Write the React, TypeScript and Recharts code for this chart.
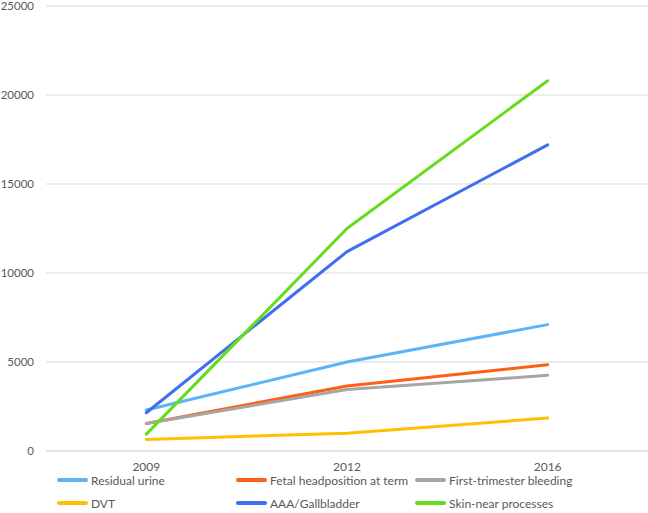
import React from 'react';
import { LineChart, Line, XAxis, YAxis, CartesianGrid } from 'recharts';

const years = ['2009', '2012', '2016'];

const residualUrine = [2300, 5000, 7100];
const fetalHeadposition = [1550, 3650, 4850];
const firstTrimesterBleeding = [1550, 3450, 4250];
const dvt = [650, 1000, 1850];
const aaaGallbladder = [2150, 11200, 17200];
const skinNearProcesses = [950, 12500, 20800];

const yTicks = [0, 5000, 10000, 15000, 20000, 25000];

const series = [
  { key: 'residual', name: 'Residual urine', values: residualUrine, color: '#5AB4F7' },
  { key: 'fetal', name: 'Fetal headposition at term', values: fetalHeadposition, color: '#FF5F14' },
  { key: 'first', name: 'First-trimester bleeding', values: firstTrimesterBleeding, color: '#A6A6A6' },
  { key: 'dvt', name: 'DVT', values: dvt, color: '#FFC000' },
  { key: 'aaa', name: 'AAA/Gallbladder', values: aaaGallbladder, color: '#3F6FF0' },
  { key: 'skin', name: 'Skin-near processes', values: skinNearProcesses, color: '#66DD1C' },
];

const data = years.map((year, i) => {
  const row: Record<string, string | number> = { year };
  series.forEach(s => {
    row[s.key] = s.values[i];
  });
  return row;
});

const FONT = 'Lato, "Open Sans", sans-serif';
const TEXT = '#595959';

// legend drawn as a 3-column grid under the axis, like the spreadsheet original
const ChartLegend = () => (
  <div style={{ position: 'absolute', left: 0, top: 471, width: 648, fontFamily: FONT, fontSize: 12, color: TEXT }}>
    {series.map((s, i) => (
      <div
        key={s.key}
        style={{
          position: 'absolute',
          left: 57 + (i % 3) * 179,
          top: Math.floor(i / 3) * 23,
          display: 'flex',
          alignItems: 'center',
          height: 18,
          whiteSpace: 'nowrap',
        }}
      >
        <span style={{ display: 'inline-block', width: 31, height: 4, background: s.color, borderRadius: 2, marginRight: 3 }} />
        <span>{s.name}</span>
      </div>
    ))}
  </div>
);

const App: React.FC = () => {
  return (
    <div style={{ position: 'absolute', left: 0, top: 0, width: 648, height: 513, background: '#fff' }}>
      <LineChart width={648} height={513} data={data} margin={{ top: 6, right: 0, bottom: 32, left: 0 }}>
        <CartesianGrid vertical={false} stroke="#D9D9D9" />
        <XAxis
          dataKey="year"
          scale="band"
          axisLine={{ stroke: '#D9D9D9' }}
          tickLine={false}
          tickMargin={5}
          height={30}
          tick={{ fill: TEXT, fontSize: 12, fontFamily: FONT }}
        />
        <YAxis
          domain={[0, 25000]}
          ticks={yTicks}
          width={46}
          axisLine={false}
          tickLine={false}
          tickMargin={6}
          tick={{ fill: TEXT, fontSize: 11.5, fontFamily: FONT }}
        />
        {series.map(s => (
          <Line
            key={s.key}
            type="linear"
            dataKey={s.key}
            name={s.name}
            stroke={s.color}
            strokeWidth={3}
            strokeLinejoin="round"
            strokeLinecap="round"
            dot={false}
            isAnimationActive={false}
          />
        ))}
      </LineChart>
      <ChartLegend />
    </div>
  );
};

export default App;
